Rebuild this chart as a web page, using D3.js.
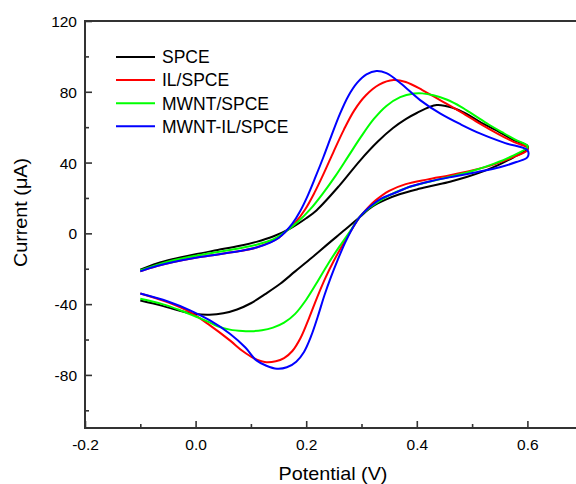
<!DOCTYPE html>
<html>
<head>
<meta charset="utf-8">
<script src="https://cdn.jsdelivr.net/npm/d3@7"></script>
<style>
  html, body { margin: 0; padding: 0; background: #fff; }
  svg { display: block; }
  text { font-family: "Liberation Sans", Arial, sans-serif; fill: #000; }
</style>
</head>
<body>
<svg id="chart" width="576" height="484"></svg>
<script>
// ---- Data (Potential in V, Current in µA); forward scan then reverse scan ----
const seriesNames = ["SPCE", "IL/SPCE", "MWNT/SPCE", "MWNT-IL/SPCE"];
const seriesColors = ["#000000", "#ff0000", "#00ff00", "#0000ff"];

const spce = [
  [-0.1,-20.5],[-0.07,-17],[-0.04,-14.5],[0,-11.8],[0.04,-9.4],[0.08,-7],[0.11,-4.8],[0.14,-1.8],[0.17,2.5],
  [0.2,8.5],[0.219,13.1],[0.26,27],[0.297,41],[0.33,52],[0.357,59.5],[0.38,64.5],[0.40,68],[0.436,72.5],
  [0.466,70.8],[0.49,67.5],[0.514,63],[0.545,58],[0.575,52.7],[0.6,49.5],
  [0.6,47.5],[0.575,43],[0.55,39],[0.52,35],[0.49,31.8],[0.46,29.2],[0.43,27],[0.4,24.8],[0.37,22.2],
  [0.345,19.2],[0.32,15.2],[0.297,9.3],[0.27,2],[0.24,-5.8],[0.21,-13.8],[0.18,-21.5],[0.153,-28.5],
  [0.125,-34.5],[0.1,-39.5],[0.075,-43],[0.05,-45.2],[0.025,-46],[0.0,-45.6],[-0.03,-43.6],[-0.06,-41],[-0.1,-38]
];
const ilSpce = [
  [-0.1,-21.5],[-0.07,-18.5],[-0.04,-16.2],[0,-13.8],[0.04,-11.9],[0.08,-10],[0.11,-8],[0.135,-5],[0.15,-2.6],
  [0.162,0.8],[0.18,6],[0.198,13.5],[0.215,23],[0.232,34],[0.25,46.5],[0.268,58.5],[0.287,69.5],[0.308,78],
  [0.332,84],[0.358,86.6],[0.38,85.5],[0.41,81],[0.442,75.3],[0.48,68.5],[0.514,62],[0.545,56.5],[0.575,51.7],[0.6,48.5],
  [0.6,47],[0.57,42.5],[0.54,39],[0.5,35.5],[0.46,32.8],[0.42,30.5],[0.38,27.8],[0.35,24],[0.325,18.5],[0.31,14],
  [0.297,9.3],[0.28,1],[0.265,-7],[0.25,-15.5],[0.235,-25],[0.22,-36],[0.205,-48],[0.19,-59],[0.175,-66.5],
  [0.16,-70.5],[0.145,-72.3],[0.125,-72.7],[0.105,-70.5],[0.085,-66.5],[0.062,-60.5],[0.026,-52],[-0.01,-44.5],
  [-0.05,-39],[-0.1,-34]
];
const mwntSpce = [
  [-0.1,-21],[-0.07,-17.8],[-0.04,-15.2],[0,-12.6],[0.04,-10.5],[0.08,-8.4],[0.11,-6.4],[0.14,-3.4],[0.162,0.8],
  [0.185,6.5],[0.207,13.5],[0.23,22.5],[0.253,32.5],[0.276,43.5],[0.299,54.5],[0.322,64.5],[0.345,72],[0.37,77],
  [0.395,79],[0.41,79.1],[0.43,78],[0.455,75.5],[0.48,71.5],[0.505,66.5],[0.53,61.5],[0.555,57],[0.578,53],[0.6,49.5],
  [0.6,48.5],[0.57,43.3],[0.54,39.4],[0.5,35.2],[0.46,32],[0.42,29],[0.38,25.5],[0.35,21.5],[0.325,16.8],[0.31,13.3],
  [0.297,9.3],[0.28,1.5],[0.26,-7.5],[0.24,-17],[0.22,-27.5],[0.20,-37.5],[0.18,-45.5],[0.16,-50.5],[0.14,-53.3],
  [0.12,-54.8],[0.1,-55.3],[0.085,-55.2],[0.062,-54.4],[0.04,-52.5],[0.02,-49.6],[0.0,-47],[-0.03,-43.2],
  [-0.06,-40],[-0.1,-37]
];
const mwntIlSpce = [
  [-0.1,-21.5],[-0.07,-18.5],[-0.04,-16.2],[0,-13.8],[0.04,-11.9],[0.08,-10],[0.11,-8],[0.135,-5.2],[0.15,-2.6],
  [0.162,0.8],[0.175,5.5],[0.189,12.5],[0.203,21.5],[0.217,32],[0.231,43],[0.246,55.5],[0.261,67.5],[0.276,77.5],
  [0.292,85],[0.309,89.8],[0.327,91.7],[0.345,90.5],[0.37,85],[0.406,75.3],[0.442,67.8],[0.48,61.5],[0.514,56.5],
  [0.56,51],[0.6,47],
  [0.6,43],[0.58,40.3],[0.55,37.4],[0.51,34.7],[0.47,32.3],[0.43,29.8],[0.39,26.6],[0.36,22.8],[0.335,19.5],
  [0.315,15],[0.297,9.3],[0.283,2.5],[0.27,-5.5],[0.257,-15],[0.245,-24.5],[0.233,-35],[0.221,-47],[0.209,-58],
  [0.196,-67],[0.182,-72.5],[0.165,-75.7],[0.147,-76.5],[0.128,-74.8],[0.11,-71.8],[0.09,-64.5],[0.062,-56.7],
  [0.026,-49.2],[-0.01,-43.5],[-0.05,-38.5],[-0.1,-34]
];
const seriesData = [spce, ilSpce, mwntSpce, mwntIlSpce];

const xMajorTicks = [-0.2, 0.0, 0.2, 0.4, 0.6];
const xMinorTicks = [-0.1, 0.1, 0.3, 0.5];
const yMajorTicks = [-80, -40, 0, 40, 80, 120];
const yMinorTicks = [-100, -60, -20, 20, 60, 100];
const xTitle = "Potential (V)";
const yTitle = "Current (\u03BCA)";

// ---- Layout ----
const svg = d3.select("#chart");
const L = 85, T = 21, B = 428;
const x = d3.scaleLinear().domain([-0.2, 0.7]).range([L, L + 553 * 0.9]);
const y = d3.scaleLinear().domain([-110, 120]).range([B, T]);
const axisColor = "#333";
const hyphen = f => d => f(d).replace("\u2212", "-");

// curves
const line = d3.line().x(d => x(d[0])).y(d => y(d[1])).curve(d3.curveCatmullRom.alpha(0.5));
seriesData.forEach((s, i) => {
  svg.append("path").attr("d", line(s)).attr("fill", "none")
    .attr("stroke", seriesColors[i]).attr("stroke-width", 2).attr("stroke-linejoin", "round");
});

// axes (ticks inward)
const xAxis = svg.append("g").attr("transform", `translate(0,${B})`)
  .call(d3.axisBottom(x).tickValues(xMajorTicks).tickSizeInner(-7).tickSizeOuter(0)
        .tickPadding(10.5).tickFormat(hyphen(d3.format(".1f"))));
const xMinor = svg.append("g").attr("transform", `translate(0,${B})`)
  .call(d3.axisBottom(x).tickValues(xMinorTicks).tickSizeInner(-4).tickSizeOuter(0).tickFormat(""));
const yAxis = svg.append("g").attr("transform", `translate(${L},0)`)
  .call(d3.axisLeft(y).tickValues(yMajorTicks).tickSizeInner(-7).tickSizeOuter(0)
        .tickPadding(8).tickFormat(hyphen(d3.format("d"))));
const yMinor = svg.append("g").attr("transform", `translate(${L},0)`)
  .call(d3.axisLeft(y).tickValues(yMinorTicks).tickSizeInner(-4).tickSizeOuter(0).tickFormat(""));

[xAxis, xMinor, yAxis, yMinor].forEach(g => {
  g.select(".domain").remove();
  g.selectAll(".tick line").attr("stroke", axisColor).attr("stroke-width", 1.6);
  g.selectAll(".tick text").style("font-size", "15.5px")
    .style("font-family", '"Liberation Sans", Arial, sans-serif').attr("fill", "#000");
});
yAxis.selectAll(".tick text").attr("dy", "0.35em");

// frame
svg.append("line").attr("x1", L).attr("x2", L).attr("y1", T - 1).attr("y2", B + 1)
  .attr("stroke", axisColor).attr("stroke-width", 2);
svg.append("line").attr("x1", L - 1).attr("x2", x(0.7)).attr("y1", B).attr("y2", B)
  .attr("stroke", axisColor).attr("stroke-width", 2);
svg.append("line").attr("x1", L - 1).attr("x2", x(0.7)).attr("y1", T).attr("y2", T)
  .attr("stroke", axisColor).attr("stroke-width", 2);
svg.append("line").attr("x1", x(0.7)).attr("x2", x(0.7)).attr("y1", T).attr("y2", B)
  .attr("stroke", axisColor).attr("stroke-width", 2);

// titles
svg.append("text").attr("transform", "translate(333,480) scale(1.1,1)").attr("text-anchor", "middle")
  .style("font-size", "18px").text(xTitle);
svg.append("text").attr("transform", "translate(27,212.5) rotate(-90) scale(1.1,1)").attr("text-anchor", "middle")
  .style("font-size", "18px").text(yTitle);

// legend
const leg = svg.append("g");
seriesNames.forEach((n, i) => {
  const yy = 57 + i * 23.1;
  leg.append("line").attr("x1", 116).attr("x2", 155).attr("y1", yy).attr("y2", yy)
    .attr("stroke", seriesColors[i]).attr("stroke-width", 2);
  leg.append("text").attr("x", 162).attr("y", yy).attr("dy", "0.36em")
    .style("font-size", "17.5px").text(n);
});
</script>
</body>
</html>
